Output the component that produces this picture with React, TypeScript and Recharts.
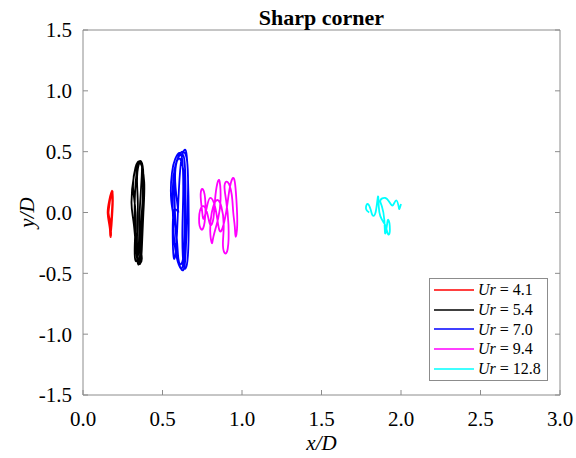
import React from 'react';
import { LineChart, Line, XAxis, YAxis, Legend, Label } from 'recharts';

const FONT = '"Liberation Serif", "Times New Roman", serif';
const AXIS_COLOR = '#8c8c8c';

const xTicks = [0, 0.5, 1, 1.5, 2, 2.5, 3];
const yTicks = [-1.5, -1, -0.5, 0, 0.5, 1, 1.5];
const urLabels = ['4.1', '5.4', '7.0', '9.4', '12.8'];
const urColors = ['#ff0000', '#000000', '#0000ff', '#ff00ff', '#00ffff'];

const ur41: [number, number][] = [
  [0.175, -0.2], [0.165, -0.1], [0.155, 0.0], [0.165, 0.1], [0.182, 0.18], [0.188, 0.1],
  [0.185, 0.0], [0.18, -0.1], [0.172, -0.19], [0.168, -0.12], [0.16, -0.02], [0.168, 0.08],
  [0.178, 0.15], [0.185, 0.05], [0.178, -0.05], [0.17, -0.15], [0.175, -0.2], [0.172, -0.1],
  [0.158, 0.03], [0.172, 0.12], [0.186, 0.17], [0.182, 0.02], [0.176, -0.12], [0.175, -0.2],
];

const ur54: [number, number][] = [
  [0.345, -0.41], [0.33, -0.2], [0.325, 0.05], [0.335, 0.3], [0.355, 0.41], [0.375, 0.35],
  [0.375, 0.1], [0.365, -0.2], [0.355, -0.4], [0.34, -0.38], [0.32, -0.1], [0.305, 0.08],
  [0.32, 0.3], [0.345, 0.4], [0.365, 0.42], [0.38, 0.3], [0.37, 0.0], [0.36, -0.25],
  [0.37, -0.38], [0.35, -0.4], [0.34, -0.2], [0.345, 0.05], [0.34, 0.25], [0.35, 0.39],
  [0.37, 0.4], [0.365, 0.2], [0.355, -0.05], [0.35, -0.3], [0.335, -0.4], [0.325, -0.3],
  [0.33, 0.0], [0.315, 0.2], [0.33, 0.37], [0.36, 0.41], [0.385, 0.25], [0.38, 0.0],
  [0.37, -0.3], [0.36, -0.42], [0.345, -0.41],
];

const ur70: [number, number][] = [
  [0.6, 0.0], [0.58, 0.25], [0.59, 0.42], [0.62, 0.48], [0.64, 0.4], [0.645, 0.1], [0.64, -0.2],
  [0.63, -0.42], [0.61, -0.45], [0.58, -0.3], [0.565, 0.0], [0.57, 0.3], [0.6, 0.46],
  [0.63, 0.5], [0.655, 0.42], [0.66, 0.15], [0.65, -0.2], [0.64, -0.43], [0.62, -0.47],
  [0.595, -0.35], [0.58, -0.05], [0.575, 0.25], [0.585, 0.4], [0.61, 0.44], [0.635, 0.3],
  [0.64, 0.0], [0.635, -0.3], [0.62, -0.42], [0.6, -0.38], [0.585, -0.15], [0.555, 0.1],
  [0.56, 0.33], [0.58, 0.44], [0.605, 0.49], [0.625, 0.42], [0.63, 0.15], [0.625, -0.15],
  [0.63, -0.4], [0.645, -0.46], [0.66, -0.35], [0.665, -0.05], [0.66, 0.3], [0.65, 0.49],
  [0.635, 0.51], [0.615, 0.4], [0.6, 0.1], [0.59, -0.2], [0.575, -0.38], [0.565, -0.25],
  [0.57, 0.0], [0.6, 0.0],
];

const ur94: [number, number][] = [
  [0.75, 0.0], [0.74, 0.15], [0.755, 0.19], [0.77, 0.08], [0.765, -0.08], [0.745, -0.14],
  [0.73, -0.05], [0.75, 0.05], [0.78, 0.0], [0.8, -0.1], [0.82, -0.05], [0.83, 0.1],
  [0.845, 0.24], [0.86, 0.25], [0.865, 0.1], [0.85, -0.05], [0.82, -0.2], [0.81, -0.25],
  [0.8, -0.15], [0.81, 0.0], [0.84, 0.1], [0.87, 0.05], [0.885, -0.1], [0.88, -0.25],
  [0.89, -0.33], [0.91, -0.3], [0.915, -0.1], [0.9, 0.1], [0.89, 0.22], [0.91, 0.25],
  [0.935, 0.15], [0.945, 0.0], [0.955, -0.12], [0.96, -0.2], [0.97, -0.1], [0.965, 0.1],
  [0.955, 0.25], [0.94, 0.28], [0.92, 0.18], [0.9, 0.0], [0.87, -0.15], [0.85, -0.1],
  [0.83, 0.05], [0.8, 0.12], [0.78, 0.05], [0.76, -0.05], [0.75, 0.0],
];

const ur128: [number, number][] = [
  [1.8, 0.0], [1.78, 0.03], [1.79, 0.07], [1.81, 0.02], [1.82, -0.02], [1.84, 0.0],
  [1.855, 0.13], [1.86, 0.05], [1.87, -0.03], [1.89, -0.08], [1.905, -0.12], [1.92, -0.18],
  [1.93, -0.14], [1.92, -0.06], [1.91, -0.12], [1.9, -0.17], [1.895, -0.06], [1.88, 0.05],
  [1.87, 0.1], [1.9, 0.12], [1.93, 0.08], [1.95, 0.06], [1.97, 0.1], [1.985, 0.05],
  [1.99, 0.03], [2.0, 0.07],
];

const trajectories = [ur41, ur54, ur70, ur94, ur128];

const toData = (pts: [number, number][]) => pts.map(([x, y]) => ({ x, y }));

const fmt = (v: number) => v.toFixed(1);

const LegendBox = () => (
  <div
    style={{
      border: `1px solid ${AXIS_COLOR}`,
      background: '#fff',
      width: 117,
      padding: '1px 0',
      fontFamily: FONT,
      fontSize: 16,
      color: '#000',
      boxSizing: 'content-box',
    }}
  >
    {urLabels.map((lab, i) => (
      <div key={lab} style={{ display: 'flex', alignItems: 'center', height: 19.8 }}>
        <svg width={48} height={10} style={{ display: 'block' }}>
          <line x1={4} x2={44} y1={5} y2={5} stroke={urColors[i]} strokeWidth={1.5} />
        </svg>
        <span style={{ whiteSpace: 'nowrap', lineHeight: '19.8px' }}>
          <i>Ur</i> = {lab}
        </span>
      </div>
    ))}
  </div>
);

export default function App() {
  return (
    <div
      style={{
        position: 'absolute',
        left: 0,
        top: 0,
        width: 576,
        height: 458,
        background: '#fff',
        fontFamily: FONT,
      }}
    >
      <LineChart
        width={576}
        height={458}
        margin={{ top: 20, right: 6, bottom: 3, left: 23 }}
        style={{ fontFamily: FONT }}
      >
        <XAxis
          xAxisId="b"
          type="number"
          dataKey="x"
          domain={[0, 3]}
          ticks={xTicks}
          allowDataOverflow
          tickSize={-5}
          tickMargin={21}
          height={60}
          stroke={AXIS_COLOR}
          tick={{ fill: '#000', fontSize: 21, fontFamily: FONT, style: { fontFamily: FONT } }}
          tickFormatter={fmt}
        >
          <Label
            content={(p: any) => {
              const vb = p.viewBox || { x: 83, width: 477 };
              return (
                <text
                  x={vb.x + vb.width / 2}
                  y={450}
                  textAnchor="middle"
                  style={{ fontFamily: FONT }}
                  fontSize={21}
                  fontStyle="italic"
                  fill="#000"
                >
                  x/D
                </text>
              );
            }}
          />
        </XAxis>
        <XAxis
          xAxisId="t"
          orientation="top"
          type="number"
          domain={[0, 3]}
          ticks={xTicks}
          allowDataOverflow
          tickSize={-5}
          height={10}
          stroke={AXIS_COLOR}
          tickFormatter={() => ''}
        >
          <Label
            content={(p: any) => {
              const vb = p.viewBox || { x: 83, width: 477 };
              return (
                <text
                  x={vb.x + vb.width / 2}
                  y={25}
                  textAnchor="middle"
                  style={{ fontFamily: FONT }}
                  fontSize={22}
                  fontWeight="bold"
                  fill="#000"
                >
                  Sharp corner
                </text>
              );
            }}
          />
        </XAxis>
        <YAxis
          yAxisId="l"
          type="number"
          domain={[-1.5, 1.5]}
          ticks={yTicks}
          allowDataOverflow
          tickSize={-5}
          tickMargin={16}
          width={60}
          stroke={AXIS_COLOR}
          tick={{ fill: '#000', fontSize: 21, fontFamily: FONT, style: { fontFamily: FONT } }}
          tickFormatter={fmt}
        >
          <Label
            content={(p: any) => {
              const vb = p.viewBox || { y: 30, height: 365 };
              const cy = vb.y + vb.height / 2;
              return (
                <text
                  x={34}
                  y={cy}
                  transform={`rotate(-90 34 ${cy})`}
                  textAnchor="middle"
                  style={{ fontFamily: FONT }}
                  fontSize={21}
                  fontStyle="italic"
                  fill="#000"
                >
                  y/D
                </text>
              );
            }}
          />
        </YAxis>
        <YAxis
          yAxisId="r"
          orientation="right"
          type="number"
          domain={[-1.5, 1.5]}
          ticks={yTicks}
          allowDataOverflow
          tickSize={-5}
          width={10}
          stroke={AXIS_COLOR}
          tickFormatter={() => ''}
        />
        {trajectories.map((pts, i) => (
          <Line
            key={urLabels[i]}
            xAxisId="b"
            yAxisId="l"
            data={toData(pts)}
            dataKey="y"
            type="natural"
            stroke={urColors[i]}
            strokeWidth={1.8}
            dot={false}
            activeDot={false}
            isAnimationActive={false}
            name={`Ur = ${urLabels[i]}`}
          />
        ))}
        <Legend
          layout="vertical"
          align="center"
          verticalAlign="middle"
          wrapperStyle={{ left: 429, top: 278, width: 119, right: 'auto', bottom: 'auto' }}
          content={() => <LegendBox />}
        />
      </LineChart>
    </div>
  );
}
